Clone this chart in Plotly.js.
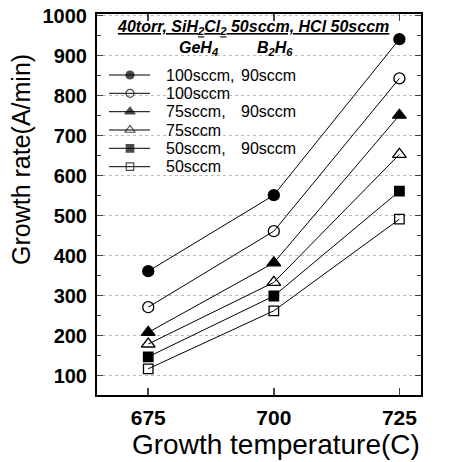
<!DOCTYPE html>
<html><head><meta charset="utf-8">
<script src="https://cdn.plot.ly/plotly-3.0.1.min.js"></script>
<style>body{margin:0;background:#fff}#c{width:449px;height:462px}</style>
</head><body><div id="c"></div>
<script>
// ---- data ----
const temps = [675, 700, 725];
const geLabels = ["100sccm,", "100sccm", "75sccm,", "75sccm", "50sccm,", "50sccm"];
const bLabels = ["90sccm", "", "90sccm", "", "90sccm", ""];
const ge100b90 = [361, 551, 941];
const ge100 = [271, 461, 843];
const ge75b90 = [208, 382, 751];
const ge75 = [179, 333, 653];
const ge50b90 = [147, 299, 561];
const ge50 = [117, 262, 491];
const yTicks = [100, 200, 300, 400, 500, 600, 700, 800, 900, 1000];
const headerText = "40torr, SiH<sub>2</sub>Cl<sub>2</sub> 50sccm, HCl 50sccm";
const colHeadGe = "GeH<sub>4</sub>";
const colHeadB = "B<sub>2</sub>H<sub>6</sub>";
const xTitle = "Growth temperature(C)";
const yTitle = "Growth rate(A/min)";

const series = [ge100b90, ge100, ge75b90, ge75, ge50b90, ge50];
const symbols = ["circle", "circle-open", "triangle-up", "triangle-up-open", "square", "square-open"];
const sizes = [11, 11, 12, 12, 9.5, 9.5];
const legSizes = [8, 8, 9, 9, 7.5, 7.5];

// ---- layout geometry (pixels) ----
const W = 449, H = 462, L = 97, R = 421, T = 14, B = 395;
const px = x => (x - L) / (R - L);
const py = y => (B - y) / (B - T);
const legRowsY = [75, 93.3, 111.7, 130, 148.3, 166.7];

const traces = series.map((s, i) => ({
  x: temps, y: s, type: "scatter", mode: "lines+markers", showlegend: false,
  line: {color: "#000", width: 1},
  marker: {symbol: symbols[i], size: sizes[i], color: "#000", line: {color: "#000", width: 1.3}}
}));
// legend key symbols drawn on a helper axis (0..1)
series.forEach((s, i) => {
  traces.push({
    x: [px(109), px(130), px(150)], y: [py(legRowsY[i]), py(legRowsY[i]), py(legRowsY[i])],
    xaxis: "x2", yaxis: "y2", type: "scatter", mode: "lines+markers", showlegend: false,
    line: {color: "#000", width: 1},
    marker: {symbol: symbols[i], size: [0, legSizes[i], 0], color: "#000", line: {color: "#000", width: [0, 1.2, 0]}}
  });
});

const annotations = [
  {xref: "paper", yref: "paper", x: px(115), y: py(28), xanchor: "left", yanchor: "middle", showarrow: false,
   text: "<b><i><u>" + headerText + "</u></i></b>", font: {size: 16}},
  {xref: "paper", yref: "paper", x: px(177), y: py(49), xanchor: "left", yanchor: "middle", showarrow: false,
   text: "<b><i>" + colHeadGe + "</i></b>", font: {size: 16}},
  {xref: "paper", yref: "paper", x: px(255), y: py(49), xanchor: "left", yanchor: "middle", showarrow: false,
   text: "<b><i>" + colHeadB + "</i></b>", font: {size: 16}},
  {xref: "paper", yref: "paper", x: px(276), y: py(444), xanchor: "center", yanchor: "middle", showarrow: false,
   text: xTitle, font: {size: 28}},
  {xref: "paper", yref: "paper", x: px(21), y: py(160), xanchor: "center", yanchor: "middle", showarrow: false,
   textangle: -90, text: yTitle, font: {size: 25}}
];
geLabels.forEach((t, i) => annotations.push({xref: "paper", yref: "paper", x: px(164), y: py(legRowsY[i]),
  xanchor: "left", yanchor: "middle", showarrow: false, text: t, font: {size: 16}}));
bLabels.forEach((t, i) => { if (t) annotations.push({xref: "paper", yref: "paper", x: px(239), y: py(legRowsY[i]),
  xanchor: "left", yanchor: "middle", showarrow: false, text: t, font: {size: 16}}); });

const layout = {
  width: W, height: H,
  margin: {l: L, r: W - R, t: T, b: H - B},
  paper_bgcolor: "#fff", plot_bgcolor: "#fff",
  font: {family: "Liberation Sans, Arial, sans-serif", color: "#000"},
  showlegend: false,
  xaxis: {range: [664.8, 729.3], tickvals: temps, ticks: "inside", ticklen: 7, tickwidth: 1.5,
    showline: true, linewidth: 2, linecolor: "#000", mirror: "ticks", showgrid: false, zeroline: false,
    tickfont: {size: 21, weight: "bold"}, ticklabelstandoff: 3},
  yaxis: {range: [51.5, 1004], tickvals: yTicks, ticks: "inside", ticklen: 6, tickwidth: 1.5,
    minor: {dtick: 50, ticks: "inside", ticklen: 4, showgrid: false},
    showline: true, linewidth: 2, linecolor: "#000", mirror: "ticks",
    showgrid: true, gridcolor: "#bbb", griddash: "dot", gridwidth: 1, zeroline: false,
    tickfont: {size: 20, weight: "bold"}, ticklabelstandoff: 4},
  xaxis2: {overlaying: "x", range: [0, 1], visible: false, fixedrange: true},
  yaxis2: {overlaying: "y", range: [0, 1], visible: false, fixedrange: true},
  annotations: annotations
};
Plotly.newPlot("c", traces, layout, {displayModeBar: false, staticPlot: true});
</script></body></html>
